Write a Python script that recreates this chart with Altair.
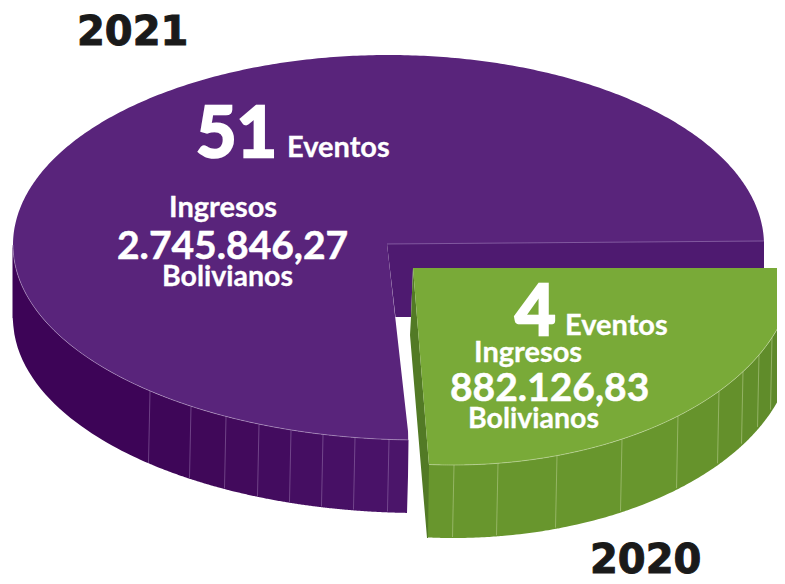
import math
import altair as alt
import pandas as pd

# ---- chart values -------------------------------------------------------
YEARS = ["2021", "2020"]
EVENTOS = ["51", "4"]
INGRESOS = ["2.745.846,27", "882.126,83"]

# ---- pie geometry (reference pixels) ------------------------------------
P_TOP = dict(cx=388.5, cy=245, a=375.5, b=190)
P_LOW = dict(cx=420, cy=245, a=407, b=195)
G_ARC = dict(cx=453, cy=268, a=341, b=197)
DEPTH = 73
P_APEX = (387, 244)
P_CORNER = (764, 241)
P_CUT = (409, 440)
P_WALL_END = (407, 513)
G_APEX = (413, 268)
G_CUT = (429, 465)
G_LEFT_BOTTOM = (427, 538)

P_BREAKS = [12.5, 150, 191, 226, 259, 291, 323, 355, 389, 408.5]
P_WALLS = ["#3d0457", "#3e0658", "#400859", "#420a5c", "#430c5f", "#450e62", "#471065", "#491268", "#4b156a"]
G_BREAKS = [428, 454, 498, 557, 622, 678, 719, 743, 759, 772, 780, 786]
G_WALLS = ["#68962d", "#68962d", "#68962d", "#68962d", "#68962d", "#66932c", "#64902b", "#628e2b", "#608c2a", "#5e892a", "#5c8729"]

PURPLE = "#59247b"
PURPLE_IN = "#4e1a70"
GREEN = "#79aa38"
GREEN_DARK = "#527a25"

X = alt.Scale(domain=[8, 777], nice=False, zero=False)
Y = alt.Scale(domain=[576, 8], nice=False, zero=False)


def low(e, x):
    t = max(-1.0, min(1.0, (x - e["cx"]) / e["a"]))
    return e["cy"] + e["b"] * math.sqrt(1 - t * t)


def up(e, x):
    t = max(-1.0, min(1.0, (x - e["cx"]) / e["a"]))
    return e["cy"] - e["b"] * math.sqrt(1 - t * t)


def span(a, b, n=60):
    # denser sampling near the ends of the range
    return [a + (b - a) * (1 - math.cos(math.pi * i / n)) / 2 for i in range(n + 1)]


def lerp(p, q, v, ax=0):
    return p[1 - ax] + (q[1 - ax] - p[1 - ax]) * (v - p[ax]) / (q[ax] - p[ax])


def v_area(rows, color):
    return alt.Chart(pd.DataFrame(rows, columns=["x", "y", "y2"])).mark_area(
        color=color, clip=True, interpolate="linear"
    ).encode(
        x=alt.X("x:Q", scale=X, axis=None),
        y=alt.Y("y:Q", scale=Y, axis=None),
        y2="y2:Q",
    )


def h_area(rows, color):
    return alt.Chart(pd.DataFrame(rows, columns=["y", "x", "x2"])).mark_area(
        color=color, clip=True, orient="horizontal", interpolate="linear"
    ).encode(
        y=alt.Y("y:Q", scale=Y, axis=None),
        x=alt.X("x:Q", scale=X, axis=None),
        x2="x2:Q",
    )


def line(points, color, width=0.8, opacity=0.5):
    df = pd.DataFrame(points, columns=["x", "y"])
    df["i"] = range(len(df))
    return alt.Chart(df).mark_line(
        color=color, strokeWidth=width, opacity=opacity, clip=True
    ).encode(
        x=alt.X("x:Q", scale=X, axis=None),
        y=alt.Y("y:Q", scale=Y, axis=None),
        order="i:Q",
    )


layers = []

# purple wall
for i, col in enumerate(P_WALLS):
    a, b = P_BREAKS[i], P_BREAKS[i + 1]
    layers.append(v_area([(x, low(P_LOW, x), low(P_LOW, x) + DEPTH) for x in span(a, b, 40)], col))

# purple face: drawn whole, the notch is taken out after it
face = []
for x in span(13, 764, 300):
    face.append((x, up(P_TOP, x), low(P_LOW, x) if x <= P_CUT[0] else P_APEX[1] + 10))
layers.append(v_area(face, PURPLE))

# notch
layers.append(h_area([
    (P_APEX[1], P_APEX[0], 800),
    (P_CUT[1], P_CUT[0], 800),
    (P_WALL_END[1], P_WALL_END[0], 800),
    (584, P_WALL_END[0], 800),
], "#ffffff"))

# inner wall of the purple slice
top_y = lambda x: lerp(P_APEX, P_CORNER, x)
layers.append(v_area([
    (387, top_y(387), 244),
    (395.5, top_y(395.5), 317),
    (411, top_y(411), 317),
    (413, top_y(413), 268),
    (764, top_y(764), 268),
], PURPLE_IN))
layers.append(line([P_APEX, P_CORNER], "#a98cc4", 0.9, 0.6))

# green wall
for i, col in enumerate(G_WALLS):
    a, b = G_BREAKS[i], G_BREAKS[i + 1]
    layers.append(v_area([(x, low(G_ARC, x), low(G_ARC, x) + DEPTH) for x in span(a, b, 24)], col))

# green dark cut side
layers.append(h_area([
    (G_APEX[1], G_APEX[0], G_APEX[0]),
    (317, 411, G_APEX[0] + (317 - G_APEX[1]) * 16 / 197),
    (335, 410, G_APEX[0] + (335 - G_APEX[1]) * 16 / 197),
    (G_CUT[1], 420.8, G_CUT[0]),
    (G_LEFT_BOTTOM[1], G_LEFT_BOTTOM[0], G_LEFT_BOTTOM[0] + 1),
], GREEN_DARK))

# green face
green = [(G_APEX[0], G_APEX[1], G_APEX[1]), (G_CUT[0], G_APEX[1], G_CUT[1])]
green += [(x, G_APEX[1], low(G_ARC, x)) for x in span(G_CUT[0], 790, 120)[1:]]
layers.append(v_area(green, GREEN))

# rim highlights
layers.append(line([(x, low(P_LOW, x)) for x in span(13, P_CUT[0], 120)], "#c9b4d8", 0.8, 0.6))
layers.append(line([(x, low(G_ARC, x)) for x in span(G_CUT[0], 790, 120)], "#cfe0b0", 0.9, 0.6))

# facet seams
for x in P_BREAKS[1:-1]:
    layers.append(line([(x, low(P_LOW, x)), (x - 1.5, low(P_LOW, x) + DEPTH - 1)], "#b79ccb", 0.8, 0.5))
for x in G_BREAKS[1:-1]:
    layers.append(line([(x, low(G_ARC, x)), (x - 1.5, low(G_ARC, x) + DEPTH - 1)], "#c3d69f", 0.9, 0.55))

# ---- texts --------------------------------------------------------------
LABELS = [
    (YEARS[0], 77, 45, 40, "#1a1a1a", "DejaVu Sans", 1.0),
    (YEARS[1], 590, 573, 40, "#1a1a1a", "DejaVu Sans", 1.0),
    (EVENTOS[0], 196, 157, 70, "#ffffff", "Lato", 2.6),
    ("Eventos", 287, 157, 29, "#ffffff", "Lato", 0.3),
    ("Ingresos", 169, 217, 29, "#ffffff", "Lato", 0.3),
    (INGRESOS[0], 117, 259, 39, "#ffffff", "Lato", 0.5),
    ("Bolivianos", 162, 286, 28.5, "#ffffff", "Lato", 0.3),
    (EVENTOS[1], 515, 335, 70, "#ffffff", "Lato", 2.6),
    ("Eventos", 565, 335, 29, "#ffffff", "Lato", 0.3),
    ("Ingresos", 474, 362, 29, "#ffffff", "Lato", 0.3),
    (INGRESOS[1], 450, 401, 39, "#ffffff", "Lato", 0.5),
    ("Bolivianos", 468, 428, 28.5, "#ffffff", "Lato", 0.3),
]
for text, x, y, size, col, font, sw in LABELS:
    layers.append(
        alt.Chart(pd.DataFrame({"t": [text], "x": [x], "y": [y]})).mark_text(
            align="left", baseline="alphabetic", fontSize=size, font=font,
            fontWeight="bold", color=col, stroke=col, strokeWidth=sw,
        ).encode(
            x=alt.X("x:Q", scale=X, axis=None),
            y=alt.Y("y:Q", scale=Y, axis=None),
            text="t:N",
        )
    )

chart = alt.layer(*layers).properties(
    width=769, height=568, padding=0,
    autosize=alt.AutoSizeParams(type="none"),
    background="#ffffff",
).configure_view(stroke=None)

chart.save("out.html", embed_options={"renderer": "svg", "actions": False})
